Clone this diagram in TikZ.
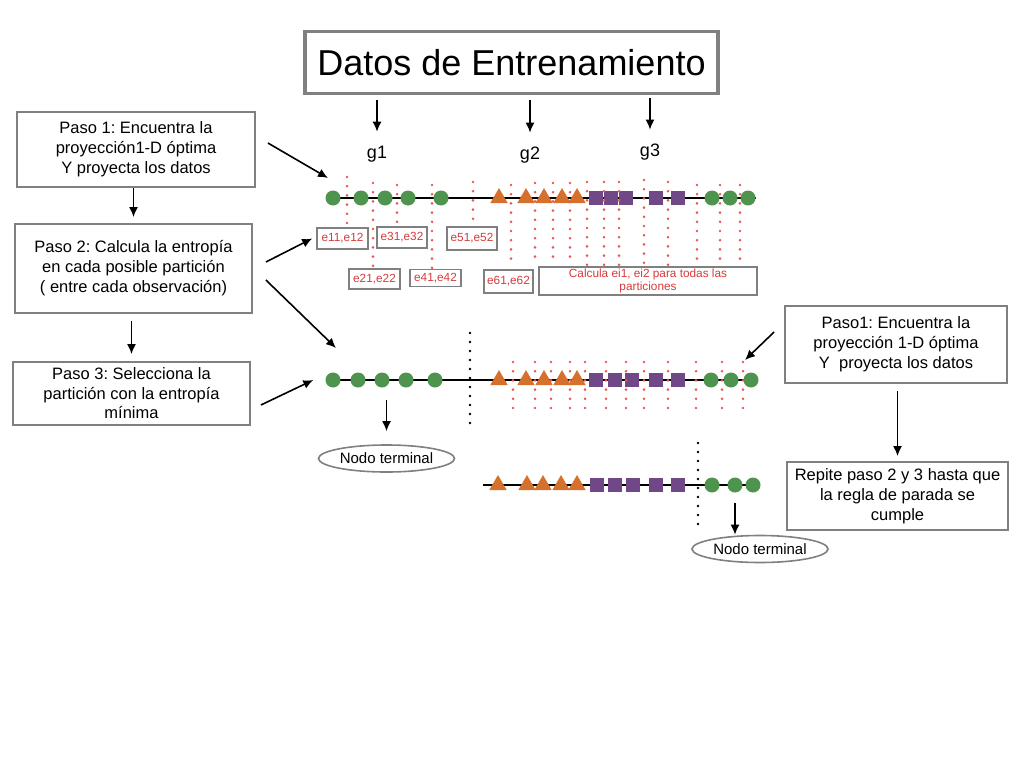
\documentclass[tikz,border=0pt]{standalone}
\usepackage{fontspec}
\setmainfont{Liberation Sans}
\usetikzlibrary{arrows.meta,positioning,shapes.geometric}
\frenchspacing
\definecolor{boxgray}{RGB}{128,128,128}
\definecolor{ptgreen}{RGB}{78,148,78}
\definecolor{ptorange}{RGB}{214,112,45}
\definecolor{ptpurple}{RGB}{112,72,135}
\definecolor{reddot}{RGB}{232,88,88}
\definecolor{redtext}{RGB}{214,58,58}

\begin{document}
\begin{tikzpicture}[
   x=1pt, y=-1pt,
   box/.style={draw=boxgray, line width=1.8pt, align=center, inner sep=0pt,
      font=\fontsize{16.5}{20}\selectfont},
   ebox/.style={draw=boxgray, fill=white, line width=1.6pt, align=center,
      inner sep=0pt, text=redtext, font=\fontsize{11.8}{12.5}\selectfont},
   term/.style={ellipse, draw=boxgray, line width=1.6pt, inner sep=0pt,
      minimum width=136pt, minimum height=27pt, font=\fontsize{15}{18}\selectfont},
   arrow/.style={-{Latex[length=10pt,width=9pt]}, line width=1.6pt},
   dataline/.style={line width=1.8pt},
   gpt/.style={circle, fill=ptgreen, minimum size=15pt, inner sep=0pt},
   opt/.style={regular polygon, regular polygon sides=3, fill=ptorange,
      minimum size=20pt, inner sep=0pt},
   ppt/.style={rectangle, fill=ptpurple, minimum size=14pt, inner sep=0pt},
   redcut/.style={draw=reddot, line width=2.9pt, line cap=round,
      dash pattern=on 0pt off 9.2pt},
   blackcut/.style={line width=2.9pt, line cap=round, dash pattern=on 0pt off 9pt},
   glab/.style={font=\fontsize{18}{20}\selectfont, inner sep=0pt}
]
\useasboundingbox (0,0) rectangle (1024,768);

\node[box, line width=3.5pt, minimum width=413pt, minimum height=62pt,
   font=\fontsize{36}{40}\selectfont] (title) at (511.5,62.5) {Datos de Entrenamiento};
\node[glab] (lg1) at (377,154) {g1};
\node[glab] (lg2) at (530,155) {g2};
\node[glab] (lg3) at (650,152) {g3};

\node[box, minimum width=238pt, minimum height=75pt] (stepA) at (136,149.5)
   {Paso 1: Encuentra la\\proyección1-D óptima\\Y proyecta los datos};
\node[box, minimum width=237pt, minimum height=89pt] (stepB) at (133.5,268.5)
   {Paso 2: Calcula la entropía\\en cada posible partición\\( entre cada observación)};
\node[box, minimum width=237pt, minimum height=63pt,
   font=\fontsize{16.5}{19.5}\selectfont] (stepC) at (131.5,393.5)
   {Paso 3: Selecciona la\\partición con la entropía\\mínima};
\node[box, minimum width=222pt, minimum height=77pt] (stepR) at (896,344.5)
   {Paso1: Encuentra la\\proyección 1-D óptima\\Y\ \ proyecta los datos};
\node[box, minimum width=221pt, minimum height=68pt] (repeat) at (897.5,496)
   {Repite paso 2 y 3 hasta que\\la regla de parada se\\cumple};

\coordinate (rowA-l) at (326,198);
\coordinate (rowA-r) at (756,198);
\draw[dataline] (rowA-l) -- (rowA-r);
\foreach \x [count=\i] in {333,361,385,408,441} \node[gpt] (r1g\i) at (\x,198) {};
\foreach \x [count=\i] in {499,526,544,562,577} \node[opt] (r1t\i) at (\x,198) {};
\foreach \x [count=\i] in {596,611,626,656,678} \node[ppt] (r1s\i) at (\x,198) {};
\foreach \x [count=\i] in {712,730,748} \node[gpt] (r1h\i) at (\x,198) {};
\foreach \x/\ya/\yb in {347/177/223, 373/183/267, 397/185/223, 432/185/270,
   473/182/220, 511/185/265, 535/183/265, 553/183/265, 570/183/265,
   587/182/265, 604/182/265, 619/182/265, 644/180/265, 668/182/265,
   697/185/265, 720/185/265, 740/185/265}
   \draw[redcut] (\x,\ya) -- (\x,\yb);

\node[ebox, minimum width=51pt, minimum height=21pt] (e1) at (342.5,238.5) {e11,e12};
\node[ebox, minimum width=50pt, minimum height=21pt] (e3) at (402,237.5) {e31,e32};
\node[ebox, minimum width=50pt, minimum height=23pt] (e5) at (472,238.5) {e51,e52};
\node[ebox, minimum width=51pt, minimum height=20pt] (e2) at (374.5,279) {e21,e22};
\node[ebox, minimum width=51pt, minimum height=17pt] (e4) at (435.5,278) {e41,e42};
\node[ebox, minimum width=49pt, minimum height=23pt] (e6) at (508.5,281.5) {e61,e62};
\node[ebox, minimum width=218pt, minimum height=28pt] (calc) at (648,281)
   {Calcula ei1, ei2 para todas las\\particiones};

\coordinate (rowB-l) at (326,380);
\coordinate (rowB-r) at (757,380);
\draw[dataline] (rowB-l) -- (rowB-r);
\foreach \x [count=\i] in {333,358,382,406,435} \node[gpt] (r2g\i) at (\x,380) {};
\foreach \x [count=\i] in {499,526,544,562,577} \node[opt] (r2t\i) at (\x,380) {};
\foreach \x [count=\i] in {596,615,632,656,678} \node[ppt] (r2s\i) at (\x,380) {};
\foreach \x [count=\i] in {711,731,751} \node[gpt] (r2h\i) at (\x,380) {};
\foreach \x in {513,535,551,570,585,606,626,644,668,696,722,743}
   \draw[redcut] (\x,362) -- (\x,412);
\draw[blackcut] (470,333) -- (470,425);

\coordinate (rowC-l) at (483,485);
\coordinate (rowC-r) at (757,485);
\draw[dataline] (rowC-l) -- (rowC-r);
\foreach \x [count=\i] in {498,527,543,561,577} \node[opt] (r3t\i) at (\x,485) {};
\foreach \x [count=\i] in {597,615,633,656,678} \node[ppt] (r3s\i) at (\x,485) {};
\foreach \x [count=\i] in {712,735,753} \node[gpt] (r3h\i) at (\x,485) {};
\draw[blackcut] (698,443) -- (698,527);

\node[term] (termA) at (386.5,458.5) {Nodo terminal};
\node[term] (termB) at (760,549) {Nodo terminal};

\draw[arrow, shorten <=5pt, shorten >=14pt] (title.south -| lg1) -- (lg1);
\draw[arrow, shorten <=5pt, shorten >=14pt] (title.south -| lg2) -- (lg2);
\draw[arrow, shorten <=3pt, shorten >=14pt] (title.south -| lg3) -- (lg3);
\draw[arrow, shorten >=6pt] (stepA.south -| stepB.north) -- (stepB.north);
\draw[arrow, shorten <=7pt, shorten >=7pt] (stepB.south -| stepC.north) -- (stepC.north);
\draw[arrow] ([shift={(12pt,6.5pt)}]stepA.east) -- ([shift={(-5pt,20pt)}]r1g1.center);
\draw[arrow] ([shift={(13pt,6.5pt)}]stepB.east) -- ([xshift=-4pt]e1.west);
\draw[arrow] ([shift={(13pt,-11.5pt)}]stepB.east) -- ([shift={(3pt,32pt)}]r2g1.center);
\draw[arrow] ([shift={(10pt,-11.5pt)}]stepC.east) -- ([xshift=-12pt]r2g1.west);
\draw[arrow, shorten <=12pt, shorten >=13pt] (termA.north |- r2g3.south) -- (termA.north);
\draw[arrow] ([shift={(-10pt,12.5pt)}]stepR.west) -- ([shift={(-6pt,20pt)}]r2h3.center);
\draw[arrow, shorten <=7pt, shorten >=5pt] (stepR.south -| repeat.north) -- (repeat.north);
\draw[arrow, shorten <=10pt] (r3h2.south) -- (r3h2.south |- termB.north);
\end{tikzpicture}
\end{document}
